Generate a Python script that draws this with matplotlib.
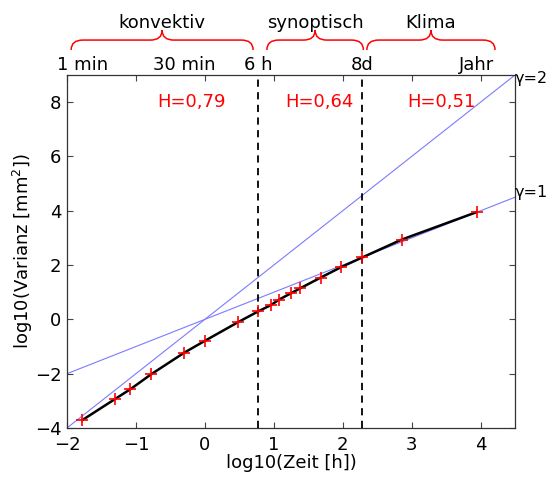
import matplotlib
matplotlib.use("Agg")
import matplotlib.pyplot as plt
import matplotlib.transforms as mtransforms
from matplotlib.path import Path
from matplotlib.patches import PathPatch
import numpy as np

plt.rcParams['font.family'] = ['DejaVu Sans']
plt.rcParams['mathtext.fontset'] = 'dejavusans'
plt.rcParams['axes.unicode_minus'] = True

# log10 of time lag [h] and log10 of variance [mm^2]
log_time = [-1.778, -1.301, -1.079, -0.778, -0.301, 0.0, 0.477, 0.778,
            0.954, 1.079, 1.255, 1.380, 1.681, 1.982, 2.283, 2.857, 3.942]
log_var = [-3.71, -2.93, -2.57, -2.02, -1.23, -0.79, -0.11, 0.30,
           0.52, 0.73, 0.97, 1.14, 1.54, 1.93, 2.28, 2.94, 3.95]

# reference slopes
gamma_values = [1, 2]
gamma_x = [-2.0, 4.5]

# time-scale boundaries (6 h and 8 days)
boundaries = [np.log10(6), np.log10(192)]

# top time labels
top_labels = ["1 min", "30 min", "6 h", "8d", "Jahr"]
top_label_x = [np.log10(1 / 60), np.log10(0.5), np.log10(6), np.log10(192), np.log10(8760)]

# regimes: name, left, right, Hurst exponent text, its x position
regimes = ["konvektiv", "synoptisch", "Klima"]
regime_left = [-1.94, 0.90, 2.35]
regime_right = [0.70, 2.30, 4.21]
hurst = ["H=0,79", "H=0,64", "H=0,51"]
hurst_x = [-0.19, 1.66, 3.43]

FS = 13

fig = plt.figure(figsize=(5.5, 4.79), dpi=100)
ax = fig.add_axes([0.1218, 0.1065, 0.8146, 0.7369])

for g in gamma_values:
    ax.plot(gamma_x, [g * v for v in gamma_x], color='#7b7bff', lw=0.8, zorder=2)

for b in boundaries:
    ax.axvline(b, color='black', lw=1.3, ls=(0, (4, 3)), zorder=3)

ax.plot(log_time, log_var, color='black', lw=1.8, zorder=4)
ax.plot(log_time, log_var, ls='none', marker='+', ms=9, mew=1.2,
        color='red', zorder=5)

ax.set_xlim(-2, 4.5)
ax.set_ylim(-4, 9)
ax.set_xticks(range(-2, 5))
ax.set_yticks(range(-4, 9, 2))
ax.tick_params(direction='in', length=4, width=0.8, top=True, right=True,
               labelsize=FS, color='#444444')
ax.tick_params(axis='x', pad=6)
ax.tick_params(axis='y', pad=4)
for s in ax.spines.values():
    s.set_linewidth(0.9)
    s.set_color('#333333')

ax.set_xlabel("log10(Zeit [h])", fontsize=FS, labelpad=0)
ax.set_ylabel(r"log10(Varianz [mm$^{2}$])", fontsize=FS, labelpad=0)

for txt, x in zip(hurst, hurst_x):
    ax.text(x, 7.82, txt, color='red', fontsize=FS, ha='center', va='baseline')

gamma_label_y = [4.5, 8.7]
for g, yl in zip(gamma_values, gamma_label_y):
    ax.text(4.49, yl, f"γ={g}", fontsize=11.5, ha='left', va='baseline', clip_on=False)

trans = mtransforms.blended_transform_factory(ax.transData, ax.transAxes)

for txt, x in zip(top_labels, top_label_x):
    ax.text(x, 1.014, txt, transform=trans, fontsize=FS, ha='center',
            va='baseline', clip_on=False)

y0, y1, y2 = 1.071, 1.099, 1.127
r = 0.17
for name, xl, xr in zip(regimes, regime_left, regime_right):
    xm = 0.5 * (xl + xr)
    verts = [(xl, y0), (xl, y1), (xl + r, y1), (xm - r, y1), (xm, y1), (xm, y2),
             (xm, y1), (xm + r, y1), (xr - r, y1), (xr, y1), (xr, y0)]
    codes = [Path.MOVETO, Path.CURVE3, Path.CURVE3, Path.LINETO, Path.CURVE3, Path.CURVE3,
             Path.CURVE3, Path.CURVE3, Path.LINETO, Path.CURVE3, Path.CURVE3]
    ax.add_patch(PathPatch(Path(verts, codes), transform=trans, fill=False,
                           edgecolor='red', lw=1.1, clip_on=False))
    ax.text(xm, 1.133, name, transform=trans, fontsize=FS, ha='center',
            va='baseline', clip_on=False)

fig.savefig("out.png", dpi=100)
